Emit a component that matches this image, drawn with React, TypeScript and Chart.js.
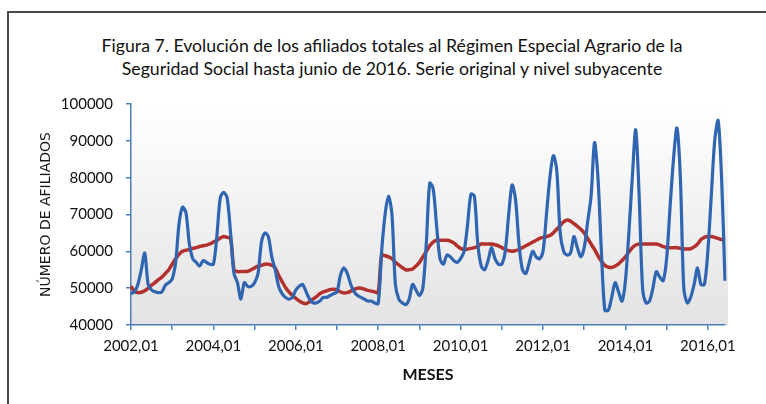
import React, { useEffect, useRef } from "react";
import { Chart, registerables } from "chart.js";

Chart.register(...registerables);

const TITLE = [
  "Figura 7. Evolución de los afiliados totales al Régimen Especial Agrario de la",
  "Seguridad Social hasta junio de 2016. Serie original y nivel subyacente",
];
const Y_TITLE = "NÚMERO DE AFILIADOS";
const X_TITLE = "MESES";

const YEARS = [2002, 2003, 2004, 2005, 2006, 2007, 2008, 2009, 2010, 2011, 2012, 2013, 2014, 2015, 2016];
const MONTHS = ["01", "02", "03", "04", "05", "06", "07", "08", "09", "10", "11", "12"];
const LAST_MONTH_2016 = 6;

const Y_TICKS = [40000, 50000, 60000, 70000, 80000, 90000, 100000];

// Serie original (monthly, 2002,01 .. 2016,06)
const serieOriginal = [
  48500, 49000, 51000, 55000, 59500, 51000, 49500, 49000, 48800, 49000, 50800, 51500,
  52500, 57000, 67500, 72000, 70500, 62000, 58000, 57000, 56000, 57500, 57000, 56500,
  56500, 64000, 74500, 76000, 74500, 65000, 54000, 51500, 47000, 51500, 50500, 50500,
  51500, 54000, 62500, 65000, 64000, 58500, 55000, 50500, 48500, 47500, 47000, 47500,
  49500, 50500, 51000, 49000, 47000, 46000, 46000, 46500, 47500, 47500, 48000, 48500,
  49000, 53500, 55500, 54000, 51000, 49000, 48000, 47500, 47000, 46500, 46500, 46000,
  45800, 60000, 70000, 75000, 70000, 51000, 47000, 46000, 45500, 47000, 51000, 49500,
  48000, 50000, 62000, 78500, 77000, 67000, 58000, 56500, 59000, 58500, 57500, 57000,
  58000, 60000, 67000, 75500, 75000, 62000, 56000, 55000, 57500, 61000, 58000, 56500,
  56500, 60000, 70000, 78000, 74000, 62000, 55000, 54000, 57000, 60000, 58500, 58000,
  60000, 70000, 80000, 86000, 82000, 65000, 60000, 59000, 59500, 64000, 61000, 58500,
  61000, 68000, 75000, 89500, 80000, 60000, 44000, 44000, 47500, 51500, 49000, 46500,
  52000, 65000, 80000, 93000, 75000, 50000, 46000, 46500, 50000, 54500, 53000, 52000,
  58000, 72000, 85000, 93500, 80000, 50000, 46000, 47500, 51000, 55500, 51000, 51000,
  60000, 75000, 90000, 95500, 80000, 52000,
];

// Nivel subyacente
const nivelSubyacente = [
  50500, 49200, 48800, 48900, 49300, 50000, 50800, 51500, 52300, 53000, 54000, 55000,
  56500, 58000, 59200, 60000, 60300, 60500, 60800, 61000, 61300, 61500, 61700, 62000,
  62500, 63000, 63600, 64000, 63800, 63500, 55000, 54500, 54500, 54500, 54600, 55000,
  55500, 56000, 56200, 56500, 56500, 56200, 55500, 53500, 51800, 50200, 49000, 48000,
  47200, 46500, 46000, 45800, 46300, 47000, 47700, 48500, 49000, 49300, 49600, 49700,
  49500, 49000, 48700, 48800, 49200, 49700, 50000, 50000, 49700, 49400, 49200, 49000,
  48800, 59000, 58800, 58500, 58000, 57000, 56300, 55600, 55000, 55000, 55200, 56000,
  57000, 58500, 60000, 61500, 62500, 63000, 63000, 63000, 63000, 62800, 62300, 61500,
  60800, 60500, 60600, 60800, 61000, 61400, 62000, 62000, 62000, 62000, 61800, 61500,
  61000, 60500, 60200, 60000, 60200, 60500, 61000, 61500, 62000, 62500, 63000, 63500,
  63800, 64000, 64300, 65000, 66000, 67000, 68000, 68500, 68200, 67500, 66800, 66000,
  65000, 63500, 62000, 60500, 58800, 57300, 56200, 55700, 55600, 56000, 56600, 57500,
  58500, 59800, 61000, 61700, 62000, 62000, 62000, 62000, 62000, 62000, 61700, 61300,
  61000, 61000, 61000, 61000, 60800, 60700, 60600, 60700, 61200, 62000, 63200, 63800,
  64000, 64000, 63800, 63500, 63200, 63000,
];

const categories: string[] = [];
YEARS.forEach((y) => {
  const n = y === 2016 ? LAST_MONTH_2016 : 12;
  for (let m = 0; m < n; m++) categories.push(`${y},${MONTHS[m]}`);
});

const FONT = "Lato, 'Open Sans', sans-serif";
const AXIS_BLUE = "#4a7ebb";

const bgPlugin = {
  id: "plotBg",
  beforeDraw(chart: any) {
    const { ctx, chartArea: a } = chart;
    const g = ctx.createLinearGradient(0, a.top, 0, a.bottom);
    g.addColorStop(0, "#ffffff");
    g.addColorStop(1, "#e3e3e3");
    ctx.save();
    ctx.fillStyle = g;
    ctx.fillRect(a.left, a.top, a.right - a.left + 3, a.bottom - a.top);
    ctx.restore();
  },
};

export default function App() {
  const ref = useRef<HTMLCanvasElement | null>(null);

  useEffect(() => {
    if (!ref.current) return;
    const chart = new Chart(ref.current, {
      type: "line",
      data: {
        labels: categories,
        datasets: [
          {
            label: "Serie original",
            data: serieOriginal,
            borderColor: "#2f65b1",
            borderWidth: 3.2,
            pointRadius: 0,
            tension: 0.3,
            fill: false,
          },
          {
            label: "Nivel subyacente",
            data: nivelSubyacente,
            borderColor: "#b3312c",
            borderWidth: 3.5,
            pointRadius: 0,
            tension: 0.3,
            fill: false,
          },
        ],
      },
      plugins: [bgPlugin],
      options: {
        animation: false,
        responsive: false,
        layout: { padding: { left: 0, right: 41, top: 104, bottom: 0 } },
        plugins: {
          legend: { display: false },
          tooltip: { enabled: false },
          title: { display: false },
        },
        scales: {
          x: {
            type: "category",
            offset: false,
            afterFit(scale: any) {
              scale.height = 79;
            },
            afterBuildTicks(axis: any) {
              axis.ticks = axis.ticks.filter((t: any) => t.value % 12 === 0);
            },
            ticks: {
              autoSkip: false,
              maxRotation: 0,
              minRotation: 0,
              padding: 7,
              color: "#111111",
              font: { family: FONT, size: 15 },
              callback: (value: any) => (Number(value) % 24 === 0 ? categories[Number(value)] : ""),
            },
            grid: {
              drawOnChartArea: false,
              drawTicks: true,
              tickLength: 5,
              color: AXIS_BLUE,
              lineWidth: 1.5,
            },
            border: { display: true, color: AXIS_BLUE, width: 1.5 },
            title: {
              display: true,
              text: X_TITLE,
              color: "#111111",
              font: { family: FONT, size: 16, weight: "bold", lineHeight: "18px" },
              padding: { top: 0, bottom: 20 },
            },
          },
          y: {
            min: 40000,
            max: 100000,
            afterFit(scale: any) {
              scale.width = 131;
            },
            afterBuildTicks(axis: any) {
              axis.ticks = Y_TICKS.map((v) => ({ value: v }));
            },
            ticks: {
              padding: 13,
              color: "#111111",
              font: { family: FONT, size: 15 },
              callback: (v: any) => String(v),
            },
            grid: {
              drawOnChartArea: false,
              drawTicks: true,
              tickLength: 5,
              color: AXIS_BLUE,
              lineWidth: 1.5,
            },
            border: { display: true, color: AXIS_BLUE, width: 1.5 },
            title: {
              display: true,
              text: Y_TITLE,
              color: "#1a1a1a",
              font: { family: "'DejaVu Sans', sans-serif", size: 14, weight: "normal", lineHeight: "17px" },
              padding: { top: 37.5, bottom: 0 },
            },
          },
        },
      },
    });
    return () => chart.destroy();
  }, []);

  return (
    <div style={{ position: "absolute", left: 0, top: 0, width: 766, height: 404, overflow: "hidden", background: "#ffffff" }}>
      <div
        style={{
          position: "absolute",
          left: 7,
          top: 11,
          width: 800,
          height: 500,
          borderLeft: "2px solid #4a4a4a",
          borderTop: "2px solid #4a4a4a",
        }}
      />
      <div
        style={{
          position: "absolute",
          left: 0,
          top: 33.5,
          width: 784,
          textAlign: "center",
          fontFamily: FONT,
          fontSize: "17.7px",
          lineHeight: "23px",
          color: "#111111",
          whiteSpace: "nowrap",
        }}
      >
        {TITLE.map((t) => (
          <div key={t}>{t}</div>
        ))}
      </div>
      <canvas ref={ref} width={766} height={404} style={{ position: "absolute", left: 0, top: 0, width: 766, height: 404 }} />
    </div>
  );
}
